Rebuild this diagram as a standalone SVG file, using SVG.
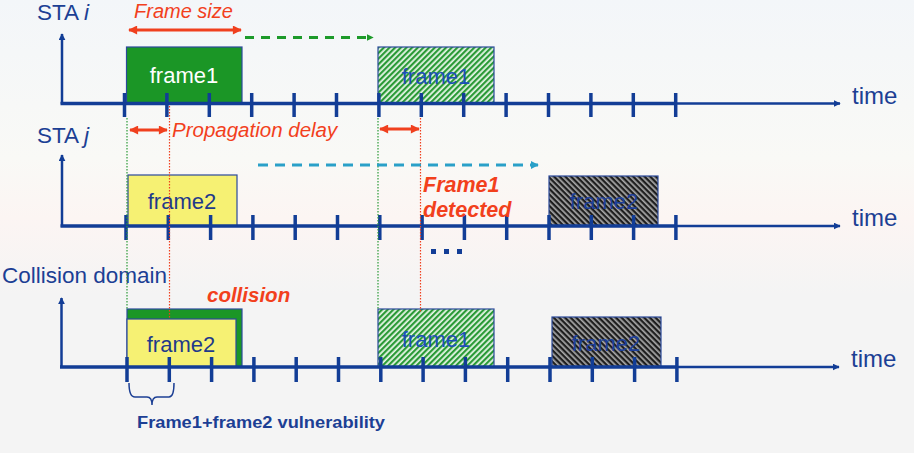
<svg xmlns="http://www.w3.org/2000/svg" width="914" height="453" viewBox="0 0 914 453">
<defs>
<linearGradient id="bg" x1="0" y1="0" x2="0" y2="1">
<stop offset="0" stop-color="#f3f6f9"/>
<stop offset="0.35" stop-color="#f9f9f6"/>
<stop offset="0.48" stop-color="#fcf5f3"/>
<stop offset="0.65" stop-color="#f4f4f4"/>
<stop offset="1" stop-color="#f4f4f4"/>
</linearGradient>
<pattern id="hatchG" width="4" height="4" patternUnits="userSpaceOnUse" patternTransform="rotate(45)">
<rect width="4" height="4" fill="#e6f5e6"/>
<rect width="2.2" height="4" fill="#2a9a36"/>
</pattern>
<pattern id="hatchK" width="4" height="4" patternUnits="userSpaceOnUse" patternTransform="rotate(-45)">
<rect width="4" height="4" fill="#1e1e1e"/>
<rect width="1.7" height="4" fill="#a8a8a8"/>
</pattern>
<marker id="ax" viewBox="0 0 10 10" refX="9" refY="5" markerWidth="7" markerHeight="7" markerUnits="userSpaceOnUse" orient="auto">
<path d="M0,0 L10,5 L0,10 z" fill="#123d96"/>
</marker>
<marker id="rd" viewBox="0 0 10 10" refX="9" refY="5" markerWidth="11" markerHeight="9" markerUnits="userSpaceOnUse" orient="auto-start-reverse">
<path d="M0,0 L10,5 L0,10 z" fill="#f0401e"/>
</marker>
<marker id="gr" viewBox="0 0 10 10" refX="9" refY="5" markerWidth="7" markerHeight="7" markerUnits="userSpaceOnUse" orient="auto">
<path d="M0,0 L10,5 L0,10 z" fill="#1d9a2a"/>
</marker>
<marker id="cy" viewBox="0 0 10 10" refX="9" refY="5" markerWidth="8" markerHeight="8" markerUnits="userSpaceOnUse" orient="auto">
<path d="M0,0 L10,5 L0,10 z" fill="#2aa0c8"/>
</marker>
<style>
text{font-family:"Liberation Sans",Arial,sans-serif}
.lbl{fill:#1c3f94;font-size:22.5px}
.time{fill:#1c3f94;font-size:24px}
.fr{font-size:22px;text-anchor:middle}
.red{fill:#f2401c;font-style:italic}
.redb{fill:#f2401c;font-style:italic;font-weight:bold}
.axis{stroke:#123d96;stroke-width:3.5;fill:none}
.axt{stroke:#123d96;stroke-width:2.5;fill:none}
.tick{stroke:#123d96;stroke-width:3.5}
.box{stroke:#2b4a9b;stroke-width:1.2}
.dotg{stroke:#2a9a36;stroke-width:1.2;stroke-dasharray:1.5 1.5}
.dotr{stroke:#f0401e;stroke-width:1.2;stroke-dasharray:1.5 1.5}
.ra{stroke:#f0401e;stroke-width:3;marker-start:url(#rd);marker-end:url(#rd)}
</style>
</defs>
<rect width="914" height="453" fill="url(#bg)"/>

<!-- frames -->
<g id="frame1-i">
<rect class="box" x="126.5" y="47" width="115.5" height="57" fill="#1b9626"/>
<text class="fr" x="184" y="83" fill="#ffffff">frame1</text>
</g>
<g id="frame1-i-copy">
<rect class="box" x="378" y="47" width="116" height="57" fill="url(#hatchG)"/>
<text class="fr" x="436" y="84" fill="#1d4fb8">frame1</text>
</g>
<g id="frame2-j">
<rect class="box" x="128" y="175" width="109" height="51" fill="#f6f173"/>
<text class="fr" x="182" y="209" fill="#1f3a8a">frame2</text>
</g>
<g id="frame2-j-copy">
<rect class="box" x="549" y="176" width="109" height="50" fill="url(#hatchK)"/>
<text class="fr" x="604" y="209" fill="#1d3f99">frame2</text>
</g>
<g id="collision-frames">
<rect class="box" x="127" y="309" width="115" height="58" fill="#1b9626"/>
<rect class="box" x="127" y="319" width="109" height="48" fill="#f6f173"/>
<text class="fr" x="181" y="352" fill="#1f3a8a">frame2</text>
</g>
<g id="frame1-cd">
<rect class="box" x="378" y="309" width="116" height="58" fill="url(#hatchG)"/>
<text class="fr" x="436" y="347" fill="#1d4fb8">frame1</text>
</g>
<g id="frame2-cd">
<rect class="box" x="552" y="317" width="109" height="50" fill="url(#hatchK)"/>
<text class="fr" x="606" y="351" fill="#1d3f99">frame2</text>
</g>

<!-- axes -->
<g id="axis-sta-i">
<text class="lbl" x="37" y="20">STA <tspan font-style="italic">i</tspan></text>
<path class="axt" d="M62,104 V34" marker-end="url(#ax)"/>
<path class="axis" d="M60.5,103.5 H676"/>
<path class="axt" d="M676,103.5 H840" marker-end="url(#ax)"/>
<g class="tick">
<line x1="124.5" y1="93" x2="124.5" y2="117"/><line x1="166.9" y1="93" x2="166.9" y2="117"/><line x1="209.3" y1="93" x2="209.3" y2="117"/><line x1="251.7" y1="93" x2="251.7" y2="117"/><line x1="294.1" y1="93" x2="294.1" y2="117"/><line x1="336.5" y1="93" x2="336.5" y2="117"/><line x1="378.9" y1="93" x2="378.9" y2="117"/><line x1="421.3" y1="93" x2="421.3" y2="117"/><line x1="463.7" y1="93" x2="463.7" y2="117"/><line x1="506.1" y1="93" x2="506.1" y2="117"/><line x1="548.5" y1="93" x2="548.5" y2="117"/><line x1="590.9" y1="93" x2="590.9" y2="117"/><line x1="633.3" y1="93" x2="633.3" y2="117"/><line x1="675.7" y1="93" x2="675.7" y2="117"/>
</g>
<text class="time" x="852" y="104">time</text>
</g>

<g id="axis-sta-j">
<text class="lbl" x="37" y="143">STA <tspan font-style="italic">j</tspan></text>
<path class="axt" d="M62,227 V155" marker-end="url(#ax)"/>
<path class="axis" d="M60.5,226 H676"/>
<path class="axt" d="M676,226 H840" marker-end="url(#ax)"/>
<g class="tick">
<line x1="126" y1="215" x2="126" y2="240"/><line x1="168.3" y1="215" x2="168.3" y2="240"/><line x1="210.6" y1="215" x2="210.6" y2="240"/><line x1="252.9" y1="215" x2="252.9" y2="240"/><line x1="295.2" y1="215" x2="295.2" y2="240"/><line x1="337.5" y1="215" x2="337.5" y2="240"/><line x1="379.8" y1="215" x2="379.8" y2="240"/><line x1="422.1" y1="215" x2="422.1" y2="240"/><line x1="464.4" y1="215" x2="464.4" y2="240"/><line x1="506.7" y1="215" x2="506.7" y2="240"/><line x1="549" y1="215" x2="549" y2="240"/><line x1="591.3" y1="215" x2="591.3" y2="240"/><line x1="633.6" y1="215" x2="633.6" y2="240"/><line x1="675.9" y1="215" x2="675.9" y2="240"/>
</g>
<text class="time" x="852" y="226">time</text>
</g>

<g id="axis-collision">
<text class="lbl" x="2" y="283">Collision domain</text>
<path class="axt" d="M61.5,368 V298" marker-end="url(#ax)"/>
<path class="axis" d="M60,367 H677"/>
<path class="axt" d="M677,367 H839" marker-end="url(#ax)"/>
<g class="tick">
<line x1="127" y1="357" x2="127" y2="382"/><line x1="169.3" y1="357" x2="169.3" y2="382"/><line x1="211.6" y1="357" x2="211.6" y2="382"/><line x1="253.9" y1="357" x2="253.9" y2="382"/><line x1="296.2" y1="357" x2="296.2" y2="382"/><line x1="338.5" y1="357" x2="338.5" y2="382"/><line x1="380.8" y1="357" x2="380.8" y2="382"/><line x1="423.1" y1="357" x2="423.1" y2="382"/><line x1="465.4" y1="357" x2="465.4" y2="382"/><line x1="507.7" y1="357" x2="507.7" y2="382"/><line x1="550" y1="357" x2="550" y2="382"/><line x1="592.3" y1="357" x2="592.3" y2="382"/><line x1="634.6" y1="357" x2="634.6" y2="382"/><line x1="676.9" y1="357" x2="676.9" y2="382"/>
</g>
<text class="time" x="851" y="367">time</text>
</g>

<!-- connectors -->
<g id="connectors">
<line class="dotg" x1="127" y1="118" x2="127" y2="310"/>
<line class="dotr" x1="169.5" y1="106" x2="169.5" y2="318"/>
<line class="dotg" x1="378" y1="118" x2="378" y2="310"/>
<line class="dotr" x1="420.5" y1="118" x2="420.5" y2="313"/>
<line x1="129" y1="30" x2="241" y2="30" class="ra"/>
<line x1="130" y1="130" x2="167" y2="130" class="ra"/>
<line x1="380" y1="129" x2="419" y2="129" class="ra"/>
<line x1="245" y1="37.5" x2="373" y2="37.5" stroke="#1d9a2a" stroke-width="3" stroke-dasharray="9 7" marker-end="url(#gr)"/>
<line x1="258" y1="165" x2="538" y2="165" stroke="#2aa0c8" stroke-width="3" stroke-dasharray="10 7" marker-end="url(#cy)"/>
<path d="M129,383 Q129,397 135,397 H147 Q152,397 152,405 Q152,397 157,397 H169 Q174,397 174,383" fill="none" stroke="#1c3f94" stroke-width="1.5"/>
</g>

<!-- annotations -->
<g id="labels">
<text class="red" x="134" y="18" font-size="20">Frame size</text>
<text class="red" x="172" y="137" font-size="20.5">Propagation delay</text>
<text class="redb" x="423" y="192" font-size="21.5">Frame1</text>
<text class="redb" x="423" y="217" font-size="21.5">detected</text>
<text class="redb" x="207" y="302" font-size="20.5">collision</text>
<text x="137" y="428" font-size="16.5" font-weight="bold" fill="#1c3f94" textLength="248" lengthAdjust="spacingAndGlyphs">Frame1+frame2 vulnerability</text>
<g fill="#123d96"><rect x="431" y="249" width="5" height="5"/><rect x="444" y="249" width="5" height="5"/><rect x="457" y="249" width="5" height="5"/></g>
</g>
</svg>
